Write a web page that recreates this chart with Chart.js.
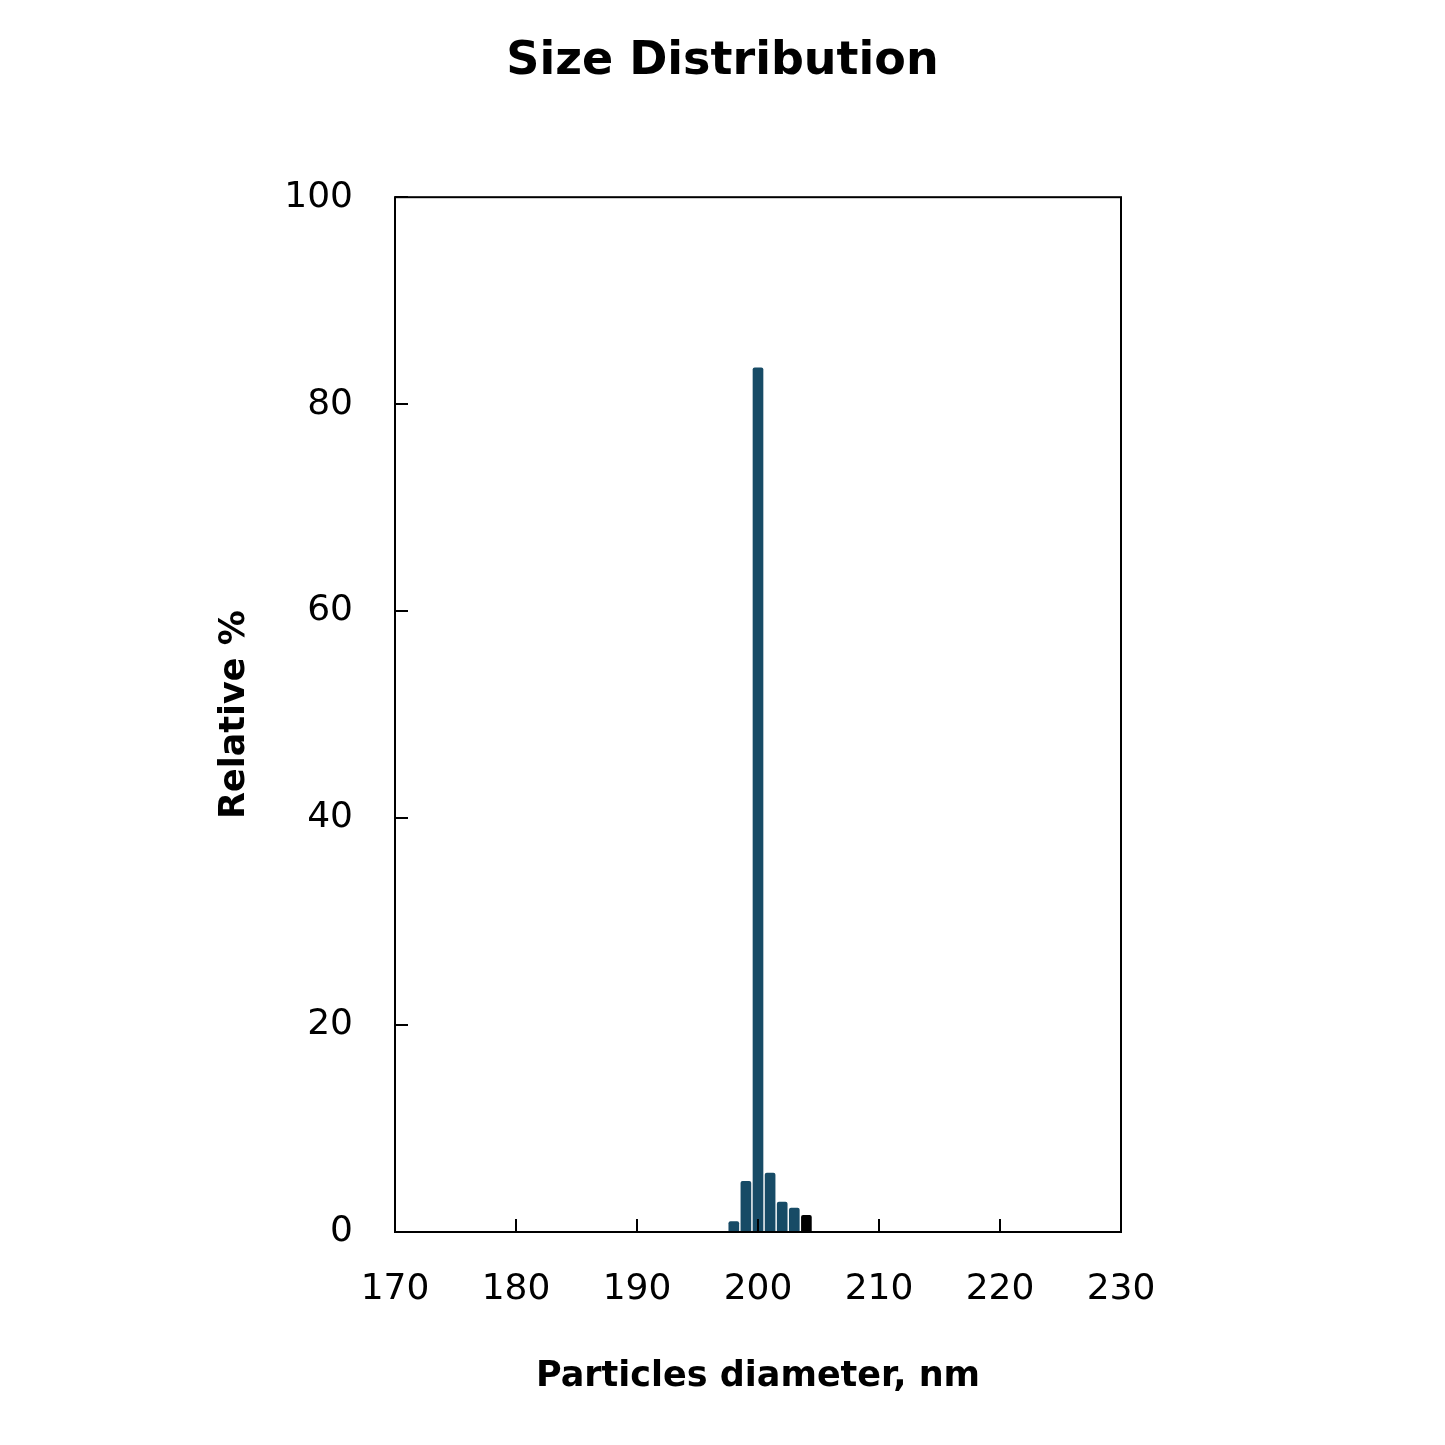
<!DOCTYPE html>
<html>
<head>
<meta charset="utf-8">
<script src="https://cdn.jsdelivr.net/npm/chart.js@4/dist/chart.umd.min.js"></script>
<style>
  html, body { margin: 0; padding: 0; background: #fff; }
  canvas { display: block; }
</style>
</head>
<body>
<canvas id="sizeChart" width="1445" height="1445"></canvas>
<script>
// particle diameter (nm) and relative %
const diameters = [198, 199, 200, 201, 202, 203, 204];
const relative = [1.0, 4.9, 83.5, 5.7, 2.9, 2.3, 1.6];
const barColors = ['#174b66', '#174b66', '#174b66', '#174b66', '#174b66', '#174b66', '#000000'];
const xTicks = [170, 180, 190, 200, 210, 220, 230];
const yTicks = [0, 20, 40, 60, 80, 100];

const tickFont = '"DejaVu Sans", sans-serif';

// frame around plot area + inward tick marks
const frameTicks = {
    id: 'frameTicks',
    afterDatasetsDraw(chart) {
        const ctx = chart.ctx;
        const a = chart.chartArea;
        const xs = chart.scales.x, ys = chart.scales.y;
        ctx.save();
        ctx.strokeStyle = '#000';
        ctx.lineWidth = 2;
        ctx.strokeRect(a.left, a.top, a.right - a.left, a.bottom - a.top);
        ctx.beginPath();
        xTicks.forEach(v => {
            const px = Math.round(xs.getPixelForValue(v));
            ctx.moveTo(px, a.bottom);
            ctx.lineTo(px, a.bottom - 13);
        });
        yTicks.forEach(v => {
            const py = Math.round(ys.getPixelForValue(v));
            ctx.moveTo(a.left, py);
            ctx.lineTo(a.left + 13, py);
        });
        ctx.stroke();
        ctx.restore();
    }
};

new Chart(document.getElementById('sizeChart'), {
    type: 'bar',
    data: {
        datasets: [{
            data: diameters.map((d, i) => ({ x: d, y: relative[i] })),
            backgroundColor: barColors,
            barThickness: 10,
            borderRadius: { topLeft: 2, topRight: 2 },
            borderSkipped: 'bottom'
        }]
    },
    options: {
        responsive: false,
        animation: false,
        layout: { padding: 0 },
        plugins: {
            legend: { display: false },
            tooltip: { enabled: false },
            title: {
                display: true,
                text: 'Size Distribution',
                color: '#000',
                font: { family: tickFont, size: 46, weight: 'bold' },
                padding: { top: 34, bottom: 108 }
            }
        },
        scales: {
            x: {
                type: 'linear',
                min: 170,
                max: 230,
                offset: false,
                afterBuildTicks(scale) { scale.ticks = xTicks.map(v => ({ value: v })); },
                afterFit(scale) { scale.height = 213; },
                grid: { display: false, drawTicks: false },
                border: { display: false },
                ticks: {
                    color: '#000',
                    padding: 36,
                    maxRotation: 0,
                    font: { family: tickFont, size: 36 }
                },
                title: {
                    display: true,
                    text: 'Particles diameter, nm',
                    color: '#000',
                    font: { family: tickFont, size: 35, weight: 'bold' },
                    padding: { top: 0, bottom: 47 }
                }
            },
            y: {
                min: 0,
                max: 100,
                afterBuildTicks(scale) { scale.ticks = yTicks.map(v => ({ value: v })); },
                afterFit(scale) { scale.width = 395; },
                grid: { display: false, drawTicks: false },
                border: { display: false },
                ticks: {
                    color: '#000',
                    padding: 42,
                    font: { family: tickFont, size: 36 }
                },
                title: {
                    display: true,
                    text: 'Relative %',
                    color: '#000',
                    font: { family: tickFont, size: 35, weight: 'bold' },
                    padding: { top: 214, bottom: 0 }
                }
            },
            // empty right-hand strip so the title stays centred on the page
            pad: {
                position: 'right',
                display: true,
                afterFit(scale) { scale.width = 324; },
                grid: { display: false, drawTicks: false },
                border: { display: false },
                ticks: { display: false }
            }
        }
    },
    plugins: [frameTicks]
});
</script>
</body>
</html>
